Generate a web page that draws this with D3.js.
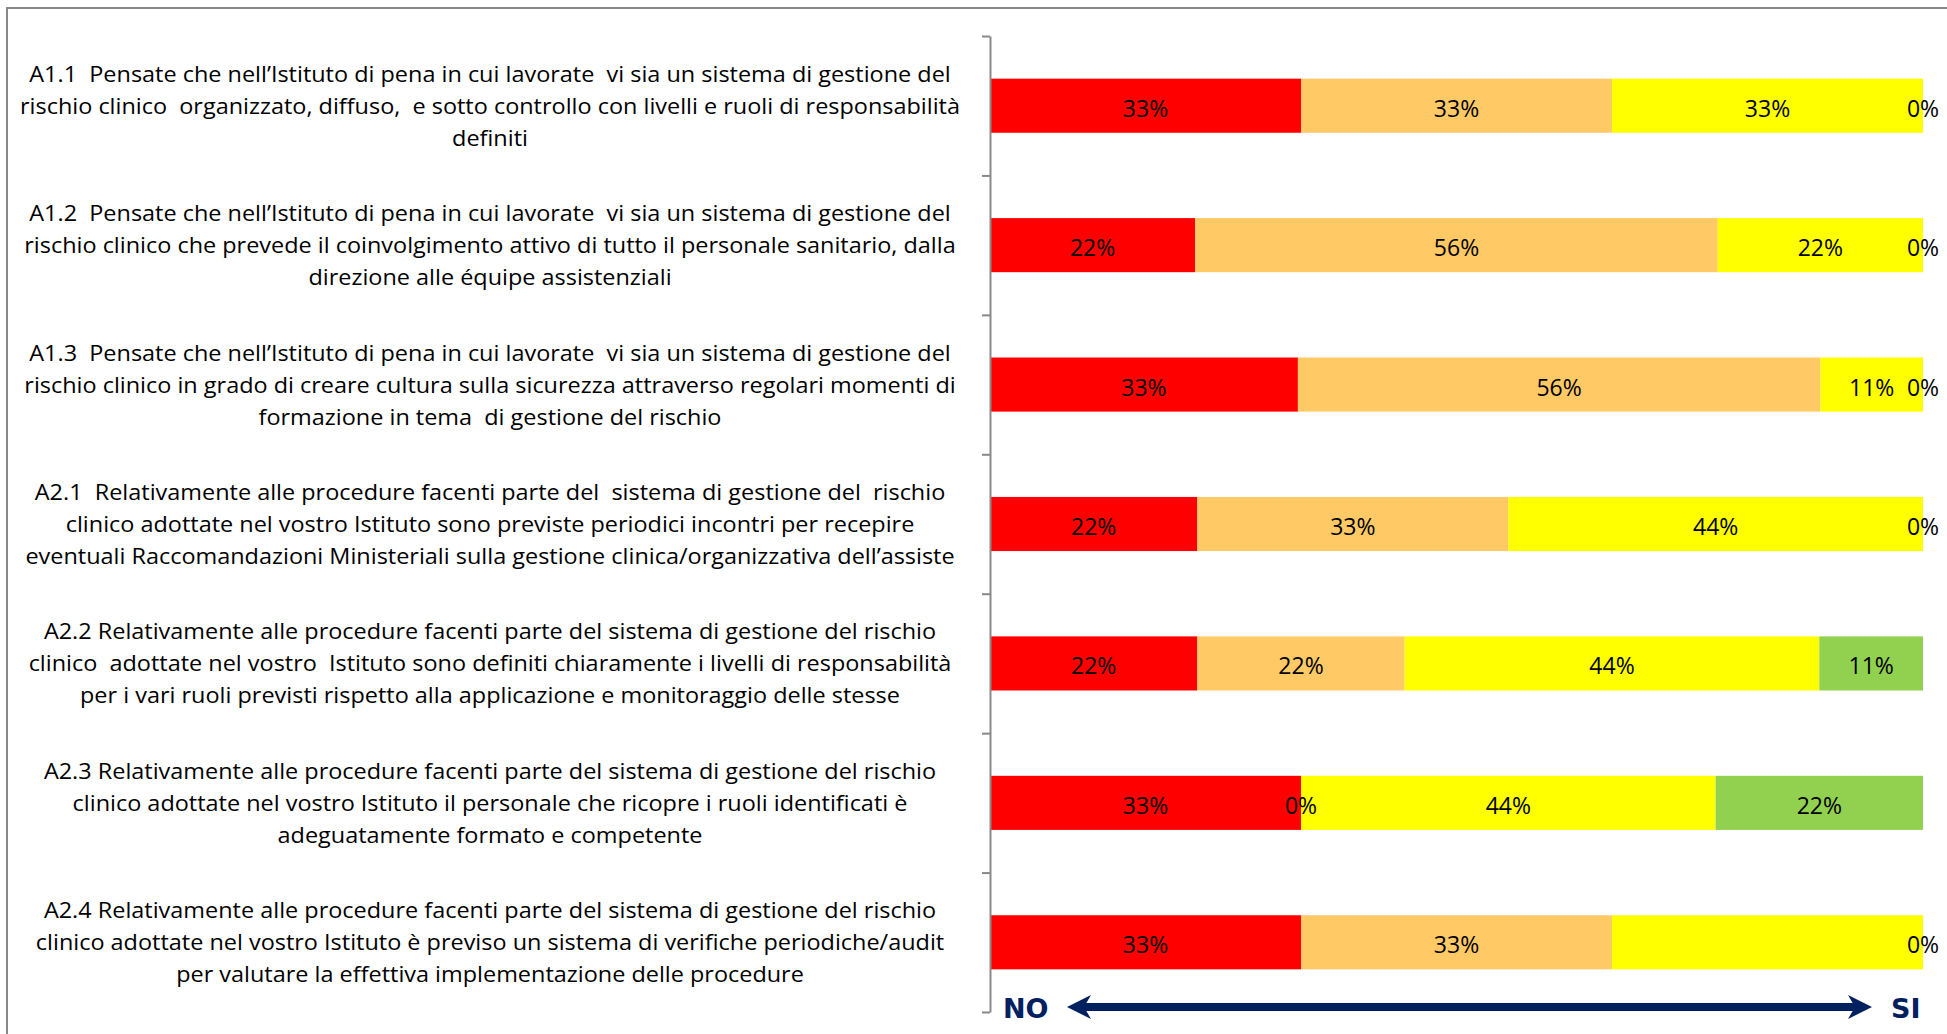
<!DOCTYPE html>
<html>
<head>
<meta charset="utf-8">
<script src="https://cdn.jsdelivr.net/npm/d3@7"></script>
<style>
    body { margin: 0; background: #fff; }
    svg { display: block; }
</style>
</head>
<body>
<div id="chart"></div>
<script>
// categories (one per question) and the wrapped label lines
var categories = ["A1.1", "A1.2", "A1.3", "A2.1", "A2.2", "A2.3", "A2.4"];

var labelLines = [
    ["A1.1  Pensate che nell’Istituto di pena in cui lavorate  vi sia un sistema di gestione del",
     "rischio clinico  organizzato, diffuso,  e sotto controllo con livelli e ruoli di responsabilità",
     "definiti"],
    ["A1.2  Pensate che nell’Istituto di pena in cui lavorate  vi sia un sistema di gestione del",
     "rischio clinico che prevede il coinvolgimento attivo di tutto il personale sanitario, dalla",
     "direzione alle équipe assistenziali"],
    ["A1.3  Pensate che nell’Istituto di pena in cui lavorate  vi sia un sistema di gestione del",
     "rischio clinico in grado di creare cultura sulla sicurezza attraverso regolari momenti di",
     "formazione in tema  di gestione del rischio"],
    ["A2.1  Relativamente alle procedure facenti parte del  sistema di gestione del  rischio",
     "clinico adottate nel vostro Istituto sono previste periodici incontri per recepire",
     "eventuali Raccomandazioni Ministeriali sulla gestione clinica/organizzativa dell’assiste"],
    ["A2.2 Relativamente alle procedure facenti parte del sistema di gestione del rischio",
     "clinico  adottate nel vostro  Istituto sono definiti chiaramente i livelli di responsabilità",
     "per i vari ruoli previsti rispetto alla applicazione e monitoraggio delle stesse"],
    ["A2.3 Relativamente alle procedure facenti parte del sistema di gestione del rischio",
     "clinico adottate nel vostro Istituto il personale che ricopre i ruoli identificati è",
     "adeguatamente formato e competente"],
    ["A2.4 Relativamente alle procedure facenti parte del sistema di gestione del rischio",
     "clinico adottate nel vostro Istituto è previso un sistema di verifiche periodiche/audit",
     "per valutare la effettiva implementazione delle procedure"]
];

// series values (percent, as printed on the bars)
var seriesKeys = ["rosso", "arancio", "giallo", "verde"];
var seriesRosso   = [33, 22, 33, 22, 22, 33, 33];
var seriesArancio = [33, 56, 56, 33, 22, 0, 33];
var seriesGiallo  = [33, 22, 11, 44, 44, 44, 33];
var seriesVerde   = [0, 0, 0, 0, 11, 22, 0];
var seriesColors  = ["#FF0000", "#FFCA66", "#FFFF00", "#92D050"];

// the yellow label of A2.4 is not shown in the original
var hiddenLabels = [["A2.4", "giallo"]];

var width = 1947, height = 1034;

var svg = d3.select("#chart")
    .append("svg")
    .attr("width", width)
    .attr("height", height);

// chart area border (continues past right / bottom edge)
svg.append("rect")
    .attr("x", 7)
    .attr("y", 8)
    .attr("width", 3000)
    .attr("height", 3000)
    .attr("fill", "none")
    .attr("stroke", "#898989")
    .attr("stroke-width", 2);

var table = categories.map(function(c, i) {
    return {cat: c, rosso: seriesRosso[i], arancio: seriesArancio[i], giallo: seriesGiallo[i], verde: seriesVerde[i]};
});

var stacked = d3.stack()
    .keys(seriesKeys)
    .offset(d3.stackOffsetExpand)(table);

var x0 = 990, x1 = 1923, yTop = 36, yBottom = 1012;

var xScale = d3.scaleLinear()
    .domain([0, 1])
    .range([x0, x1]);

var yScale = d3.scaleBand()
    .domain(categories)
    .range([yTop, yBottom])
    .paddingInner(0.612)
    .paddingOuter(0.306);

var color = d3.scaleOrdinal()
    .domain(seriesKeys)
    .range(seriesColors);

// bars
var layers = svg.append("g")
    .selectAll("g")
    .data(stacked)
    .enter()
    .append("g")
    .attr("fill", function(d) { return color(d.key); });

layers.selectAll("rect")
    .data(function(d) { return d; })
    .enter()
    .append("rect")
    .attr("x", function(d) { return xScale(d[0]); })
    .attr("y", function(d) { return yScale(d.data.cat); })
    .attr("width", function(d) { return xScale(d[1]) - xScale(d[0]); })
    .attr("height", yScale.bandwidth());

// value labels
var isHidden = function(cat, key) {
    return hiddenLabels.some(function(h) { return h[0] === cat && h[1] === key; });
};

stacked.forEach(function(layer) {
    svg.append("g")
        .selectAll("text")
        .data(layer.filter(function(d) { return !isHidden(d.data.cat, layer.key); }))
        .enter()
        .append("text")
        .attr("x", function(d) { return xScale((d[0] + d[1]) / 2); })
        .attr("y", function(d) { return yScale(d.data.cat) + yScale.bandwidth() / 2 + 2; })
        .attr("text-anchor", "middle")
        .attr("dominant-baseline", "central")
        .style("font-family", "'Open Sans', sans-serif")
        .style("font-size", "23px")
        .style("fill", "#000")
        .text(function(d) { return d.data[layer.key] + "%"; });
});

// vertical axis with ticks at the category boundaries
var tickScale = d3.scaleLinear()
    .domain([0, categories.length])
    .range([yTop, yBottom]);

var yAxis = svg.append("g")
    .attr("transform", "translate(" + x0 + ",0)")
    .call(d3.axisLeft(tickScale)
        .tickValues(d3.range(categories.length + 1))
        .tickFormat("")
        .tickSize(8)
        .tickSizeOuter(0));

yAxis.selectAll("path, line")
    .attr("stroke", "#898989")
    .attr("stroke-width", 2);

// question labels
var labelX = 490, lineStep = 32;

var labelTexts = svg.append("g")
    .selectAll("g")
    .data(categories)
    .enter()
    .append("g")
    .attr("transform", function(d) { return "translate(" + labelX + "," + (yScale(d) + yScale.bandwidth() / 2) + ")"; });

labelTexts.each(function(d, i) {
    var lines = labelLines[i];
    d3.select(this).selectAll("text")
        .data(lines)
        .enter()
        .append("text")
        .attr("class", "qlabel")
        .attr("x", 0)
        .attr("y", function(l, j) { return (j - (lines.length - 1) / 2) * lineStep; })
        .attr("text-anchor", "middle")
        .attr("dominant-baseline", "central")
        .style("font-family", "'Open Sans', sans-serif")
        .style("font-size", "21px")
        .style("fill", "#000")
        .style("white-space", "pre")
        .text(function(l) { return l; });
});

// squeeze the labels so the longest line spans the same width as in the original
var maxW = 0;
svg.selectAll(".qlabel").each(function() {
    maxW = Math.max(maxW, this.getComputedTextLength());
});
var squeeze = 940 / maxW;
svg.selectAll(".qlabel").each(function() {
    var w = this.getComputedTextLength();
    d3.select(this)
        .attr("textLength", w * squeeze)
        .attr("lengthAdjust", "spacingAndGlyphs");
});

// NO <-> SI arrow
var navy = "#002060";
var ay = 1007;

svg.append("text")
    .attr("x", 1003)
    .attr("y", 1018)
    .style("font-family", "'DejaVu Sans', sans-serif")
    .style("font-weight", "bold")
    .style("font-size", "27px")
    .style("fill", navy)
    .text("NO");

svg.append("text")
    .attr("x", 1891)
    .attr("y", 1018)
    .style("font-family", "'DejaVu Sans', sans-serif")
    .style("font-weight", "bold")
    .style("font-size", "27px")
    .style("fill", navy)
    .text("SI");

svg.append("line")
    .attr("x1", 1080)
    .attr("x2", 1860)
    .attr("y1", ay)
    .attr("y2", ay)
    .attr("stroke", navy)
    .attr("stroke-width", 8);

var headL = d3.path();
headL.moveTo(1067, ay);
headL.lineTo(1091, ay - 12);
headL.lineTo(1084, ay);
headL.lineTo(1091, ay + 12);
headL.closePath();

var headR = d3.path();
headR.moveTo(1872, ay);
headR.lineTo(1848, ay - 12);
headR.lineTo(1855, ay);
headR.lineTo(1848, ay + 12);
headR.closePath();

svg.append("path").attr("d", headL.toString()).attr("fill", navy);
svg.append("path").attr("d", headR.toString()).attr("fill", navy);
</script>
</body>
</html>
